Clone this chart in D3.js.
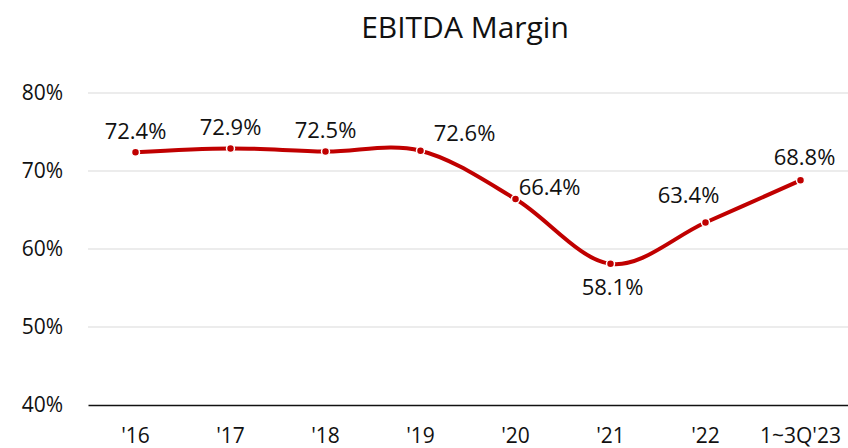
<!DOCTYPE html>
<html>
<head>
<meta charset="utf-8">
<script src="https://cdn.jsdelivr.net/npm/d3@7"></script>
<style>
    body { margin: 0; background: #fff; }
    text { font-family: "Open Sans", "Noto Sans", sans-serif; fill: #111; }
</style>
</head>
<body>
<svg id="chart" width="848" height="448"></svg>
<script>
const categories = ["'16", "'17", "'18", "'19", "'20", "'21", "'22", "1~3Q'23"];
const margin = [72.4, 72.9, 72.5, 72.6, 66.4, 58.1, 63.4, 68.8];
// label offsets relative to the point (dx, dy of the label centre)
const labelDx = [0, 0, 0, 44, 34, 2, -17, 4];
const labelDy = [-21, -21, -21, -17, -12, 23, -27, -23];
const yTicks = [40, 50, 60, 70, 80];

const svg = d3.select("#chart");
const plotLeft = 88, plotRight = 848, plotTop = 93, plotBottom = 405;

const x = d3.scaleBand().domain(categories).range([plotLeft, plotRight]);
const y = d3.scaleLinear().domain([40, 80]).range([plotBottom, plotTop]);

svg.append("text")
    .attr("x", 465).attr("y", 38)
    .attr("text-anchor", "middle")
    .style("font-size", "30px")
    .text("EBITDA Margin");

// gridlines
svg.append("g")
    .selectAll("line")
    .data(yTicks.filter(d => d > 40))
    .join("line")
    .attr("x1", plotLeft).attr("x2", plotRight)
    .attr("y1", d => y(d)).attr("y2", d => y(d))
    .attr("stroke", "#d9d9d9")
    .attr("stroke-width", 1);

// y labels
svg.append("g")
    .selectAll("text")
    .data(yTicks)
    .join("text")
    .attr("x", 63)
    .attr("y", d => y(d))
    .attr("dy", "0.35em")
    .attr("text-anchor", "end")
    .style("font-size", "21px")
    .text(d => d + "%");

// x axis
const xAxis = svg.append("g")
    .attr("transform", `translate(0,${plotBottom})`)
    .call(d3.axisBottom(x).tickSize(0).tickPadding(23));
xAxis.select(".domain").attr("stroke", "#111").attr("stroke-width", 1.4);
xAxis.selectAll("text")
    .style("font-size", "21px")
    .style("font-family", "'Open Sans', 'Noto Sans', sans-serif")
    .attr("fill", "#111");

const cx = d => x(d) + x.bandwidth() / 2;
const pts = categories.map((c, i) => ({c, v: margin[i], dx: labelDx[i], dy: labelDy[i]}));

const line = d3.line()
    .x(d => cx(d.c))
    .y(d => y(d.v))
    .curve(d3.curveCardinal.tension(0));

svg.append("path")
    .datum(pts)
    .attr("d", line)
    .attr("fill", "none")
    .attr("stroke", "#c00000")
    .attr("stroke-width", 4)
    .attr("stroke-linecap", "round");

svg.append("g")
    .selectAll("circle")
    .data(pts)
    .join("circle")
    .attr("cx", d => cx(d.c))
    .attr("cy", d => y(d.v))
    .attr("r", 4)
    .attr("fill", "#c00000")
    .attr("stroke", "#fff")
    .attr("stroke-width", 1.5);

// data labels
svg.append("g")
    .selectAll("text")
    .data(pts)
    .join("text")
    .attr("x", d => cx(d.c) + d.dx)
    .attr("y", d => y(d.v) + d.dy)
    .attr("dy", "0.35em")
    .attr("text-anchor", "middle")
    .style("font-size", "22px")
    .text(d => d.v.toFixed(1) + "%");
</script>
</body>
</html>
